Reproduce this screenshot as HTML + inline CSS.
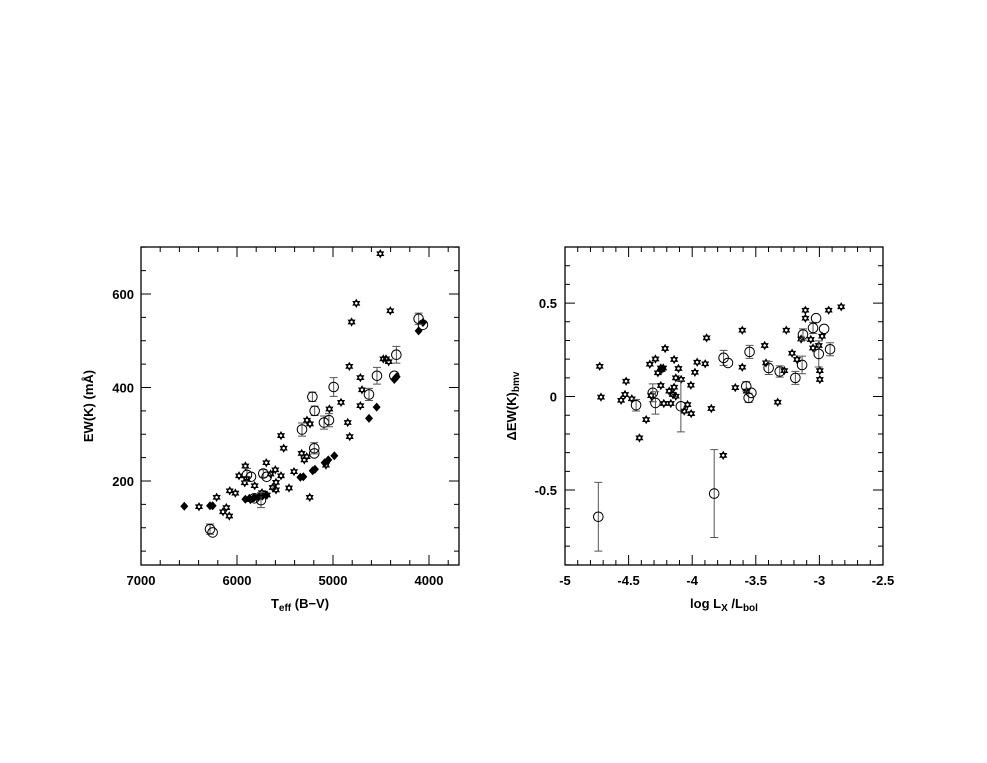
<!DOCTYPE html>
<html><head><meta charset="utf-8"><style>
html,body{margin:0;padding:0;background:#fff;}
svg{display:block;font-family:"Liberation Sans",Arial,sans-serif;}
</style></head><body>
<svg id="chart" width="987" height="763" viewBox="0 0 987 763"></svg>
<script>
// Left panel data: Teff (K), EW(K) (mÅ)
const leftStarT=[4507,4757,4806,4403,4830,4476,4448,4420,4715,4698,4917,4715,5038,4847,4826,5271,5240,5542,5514,5327,5274,5299,5073,5406,5243,5458,5601,5542,5594,5629,5695,5913,5979,5920,5816,6017,6076,6212,6396,6111,6146,6080,5594,5688,5860,5780,5740,5900,5650];
const leftStarEW=[686,580,540,564,445,461,461,455,421,395,368,361,354,325,295,330,322,297,270,259,252,245,234,220,165,185,224,211,197,186,239,232,211,196,190,174,179,165,145,143,134,125,181,170,160,165,175,205,215];
const leftDiaT=[6549,6281,6254,5913,5870,5820,5770,5735,5700,5340,5309,5212,5188,5087,5049,4986,4625,4545,4361,4337,4108,4063];
const leftDiaEW=[146,147,147,161,163,165,167,168,170,208,209,222,225,239,245,254,334,358,417,423,521,539];
const leftCircT=[6281,6254,5896,5854,5726,5691,5750,5819,5323,5215,5191,5094,5042,4993,5195,5195,4625,4542,4340,4361,4108,4063];
const leftCircEW=[97,90,213,209,216,209,159,163,310,380,350,325,330,401,270,259,385,425,470,425,547,534];
const leftCircErr=[11,0,14,0,8,0,16,0,14,10,10,14,14,20,12,0,13,18,18,0,12,0];
const leftXTicks=[7000,6000,5000,4000];
const leftYTicks=[200,400,600];
// Right panel data: log Lx/Lbol, dEW
const rStarX=[-4.727,-4.717,-4.52,-4.528,-4.559,-4.475,-4.362,-4.415,-4.333,-4.289,-4.213,-4.27,-4.247,-4.228,-4.247,-4.323,-4.223,-4.168,-4.181,-4.142,-4.152,-4.129,-4.142,-4.108,-4.129,-4.087,-4.037,-4.063,-4.008,-4.01,-3.979,-3.961,-3.898,-3.887,-3.85,-3.756,-3.661,-3.606,-3.606,-3.572,-3.43,-3.42,-3.328,-3.276,-3.26,-3.215,-3.176,-3.144,-3.11,-3.11,-3.068,-3.05,-3.005,-2.979,-2.997,-2.997,-2.927,-2.829,-4.24];
const rStarY=[0.162,-0.003,0.082,0.011,-0.02,-0.012,-0.123,-0.221,0.173,0.201,0.257,0.127,0.153,0.153,0.059,0.005,-0.037,-0.037,0.029,0.05,0.011,0.002,0.198,0.15,0.1,0.091,-0.043,-0.078,-0.091,0.061,0.13,0.184,0.175,0.314,-0.064,-0.315,0.048,0.355,0.157,0.029,0.273,0.18,-0.03,0.139,0.355,0.232,0.198,0.308,0.462,0.419,0.305,0.26,0.273,0.323,0.139,0.091,0.462,0.48,0.145];
const rCircX=[-4.738,-4.441,-4.31,-4.289,-4.089,-3.827,-3.753,-3.719,-3.575,-3.556,-3.535,-3.549,-3.399,-3.312,-3.189,-3.136,-3.129,-3.05,-3.026,-2.963,-3.005,-2.916];
const rCircY=[-0.643,-0.046,0.02,-0.034,-0.052,-0.519,0.207,0.18,0.055,-0.007,0.02,0.239,0.153,0.134,0.1,0.169,0.332,0.367,0.419,0.362,0.228,0.253];
const rCircErr=[0.184,0.031,0.048,0.06,0.137,0.235,0.04,0,0.025,0.025,0,0.035,0.035,0.03,0.035,0.047,0.03,0.03,0,0,0.07,0.035];
const rightXTicks=[-5,-4.5,-4,-3.5,-3,-2.5];
const rightYTicks=[-0.5,0,0.5];

const NS="http://www.w3.org/2000/svg";
const svg=document.getElementById('chart');
function mk(tag,attrs,parent){const e=document.createElementNS(NS,tag);for(const k in attrs)e.setAttribute(k,attrs[k]);(parent||svg).appendChild(e);return e;}

function panel(name,x0,y0,x1,y1,dx0,dx1,dy0,dy1){
  const g=mk('g',{});
  
  
  const sx=v=>x0+(v-dx0)/(dx1-dx0)*(x1-x0);
  const sy=v=>y1-(v-dy0)/(dy1-dy0)*(y1-y0);
  const fr=mk('rect',{x:x0,y:y0,width:x1-x0,height:y1-y0,fill:'none',stroke:'#000','stroke-width':1.3},g);
  
  
  return {g,sx,sy};
}
function ticks(p,g,x0,y0,x1,y1,xs,xe,xstep,xmajor,ys,ye,ystep,ymajor){
  let d='';
  const n=Math.round((xe-xs)/xstep);
  for(let i=0;i<=n;i++){const v=xs+i*xstep;const X=p.sx(v);const maj=Math.abs(v/xmajor-Math.round(v/xmajor))<1e-6;const L=maj?10:5;
    d+=`M${X},${y1}v${-L}M${X},${y0}v${L}`;}
  const m=Math.round((ye-ys)/ystep);
  for(let i=0;i<=m;i++){const v=ys+i*ystep;const Y=p.sy(v);const maj=Math.abs(v/ymajor-Math.round(v/ymajor))<1e-6;const L=maj?10:5;
    d+=`M${x0},${Y}h${L}M${x1},${Y}h${-L}`;}
  mk('path',{d:d,stroke:'#000','stroke-width':1,fill:'none'},g);
}
function star(g,X,Y){
  const r=3.6;let a='',b='';
  for(let i=0;i<3;i++){const t1=-Math.PI/2+i*2*Math.PI/3,t2=Math.PI/2+i*2*Math.PI/3;
    a+=(i?'L':'M')+(X+r*Math.cos(t1)).toFixed(1)+','+(Y+r*Math.sin(t1)).toFixed(1);
    b+=(i?'L':'M')+(X+r*Math.cos(t2)).toFixed(1)+','+(Y+r*Math.sin(t2)).toFixed(1);}
  const s=mk('path',{d:a+'Z'+b+'Z',fill:'none',stroke:'#000','stroke-width':1.1},g);
  
  
}
function circ(g,X,Y,Ylo,Yhi){
  if(Ylo!==null&&Math.abs(Ylo-Yhi)>1){
    const e=mk('path',{d:`M${X},${Yhi}V${Ylo}M${X-4},${Yhi}h8M${X-4},${Ylo}h8`,stroke:'#555','stroke-width':1,fill:'none'},g);
    
    
  }
  const c=mk('circle',{cx:X,cy:Y,r:4.8,fill:'none',stroke:'#000','stroke-width':1},g);
  
  
}
function diamond(g,X,Y){
  const s=mk('path',{d:`M${X},${Y-4.5}L${X+4},${Y}L${X},${Y+4.5}L${X-4},${Y}Z`,fill:'#000'},g);
  
  
}
function text(g,x,y,str,attrs,name){
  const t=mk('text',Object.assign({x:x,y:y,'font-size':13,'font-weight':'bold','text-anchor':'middle',fill:'#000'},attrs||{}),g);
  t.innerHTML=str;
  
  
  return t;
}

// LEFT
const L=panel('left-panel',141,247,459,565,7000,3687.5,20.3,700.4);
ticks(L,L.g,141,247,459,565,3800,7000,200,1000,50,700,50,200);
leftXTicks.forEach(v=>text(L.g,L.sx(v),585,v,{},'x-tick-label'));
leftYTicks.forEach(v=>text(L.g,134,L.sy(v)+5,v,{'text-anchor':'end'},'y-tick-label'));
leftStarT.forEach((t,i)=>star(L.g,L.sx(t),L.sy(leftStarEW[i])));
leftDiaT.forEach((t,i)=>diamond(L.g,L.sx(t),L.sy(leftDiaEW[i])));
leftCircT.forEach((t,i)=>circ(L.g,L.sx(t),L.sy(leftCircEW[i]),L.sy(leftCircEW[i]-leftCircErr[i]),L.sy(leftCircEW[i]+leftCircErr[i])));
text(L.g,300,608,'T<tspan font-size="10" dy="3">eff</tspan><tspan dy="-3"> (B−V)</tspan>',{},'x-axis-title');
text(L.g,0,0,'EW(K)  (mÅ)',{transform:'translate(93,406) rotate(-90)'},'y-axis-title');

// RIGHT
const R=panel('right-panel',565,247,883,565,-5,-2.5,-0.901,0.8);
ticks(R,R.g,565,247,883,565,-5,-2.5,0.1,0.5,-0.9,0.8,0.1,0.5);
rightXTicks.forEach(v=>text(R.g,R.sx(v),585,v===-5||v===-4||v===-3?String(v):String(v),{},'x-tick-label'));
rightYTicks.forEach(v=>text(R.g,557,R.sy(v)+5,v===0?'0':String(v),{'text-anchor':'end'},'y-tick-label'));
rStarX.forEach((x,i)=>star(R.g,R.sx(x),R.sy(rStarY[i])));
rCircX.forEach((x,i)=>circ(R.g,R.sx(x),R.sy(rCircY[i]),R.sy(rCircY[i]-rCircErr[i]),R.sy(rCircY[i]+rCircErr[i])));
text(R.g,724,608,'log  L<tspan font-size="10" dy="3">X</tspan><tspan dy="-3"> /L</tspan><tspan font-size="10" dy="3">bol</tspan>',{},'x-axis-title');
text(R.g,0,0,'ΔEW(K)<tspan font-size="10" dy="3">bmv</tspan>',{transform:'translate(516,406) rotate(-90)'},'y-axis-title');
</script>
</body></html>
